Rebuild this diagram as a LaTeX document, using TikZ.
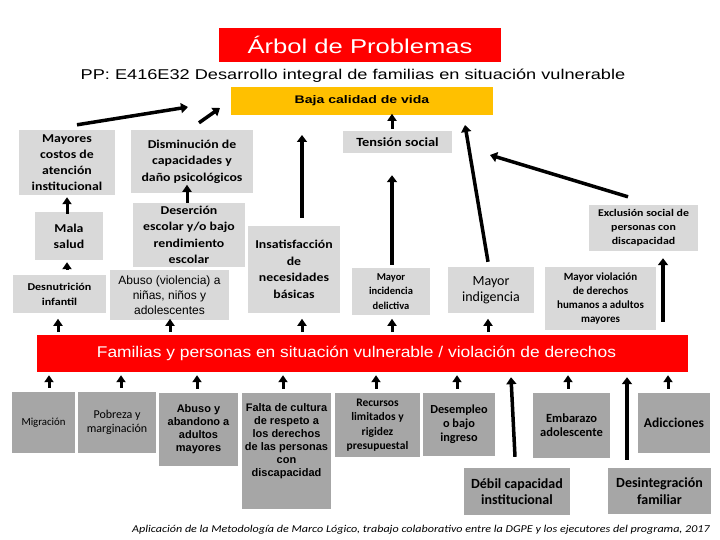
\documentclass[tikz,border=0pt]{standalone}
\usepackage{fontspec}
\setmainfont{Carlito}
\newfontfamily\arl{Liberation Sans}
\newfontfamily\arlw[FakeStretch=1.28]{Liberation Sans}
\newfontfamily\arlm[FakeStretch=1.12]{Liberation Sans}
\newfontfamily\cw[FakeStretch=1.15]{Carlito}
\usetikzlibrary{arrows.meta,calc}
\definecolor{lg}{HTML}{D9D9D9}
\definecolor{dg}{HTML}{A6A6A6}
\definecolor{rd}{HTML}{FF0000}
\definecolor{yl}{HTML}{FFC000}
\begin{document}
\begin{tikzpicture}[x=1pt,y=-1pt,
  lbox/.style={fill=lg, inner sep=0pt, align=center},
  dbox/.style={fill=dg, inner sep=0pt, align=center},
  arr/.style={line width=3pt, -{Triangle[width=9pt,length=7pt]}},
  sarr/.style={line width=3.5pt, -{Triangle[width=10pt,length=7pt]}}]
\useasboundingbox (0,0) rectangle (720,540);

% header
\node[fill=rd, text=white, minimum width=282pt, minimum height=34pt, inner sep=0pt] (title) at (360,45)
  {\arlw\fontsize{20}{24}\selectfont Árbol de Problemas};
\node[inner sep=0pt] (sub) at (353,76)
  {\arlw\fontsize{14.2}{16}\selectfont PP: E416E32 Desarrollo integral de familias en situación vulnerable};
\node[fill=yl, minimum width=262pt, minimum height=28pt, inner sep=0pt] (yellow) at (362,101)
  {\arlw\bfseries\fontsize{11}{14}\selectfont Baja calidad de vida};

% effects (light gray)
\node[lbox, minimum width=96pt, minimum height=65pt, font=\cw\bfseries\fontsize{12}{16}\selectfont] (mayores) at (67,162.5)
  {Mayores\\costos de\\atención\\institucional};
\node[lbox, minimum width=68pt, minimum height=48pt, font=\cw\bfseries\fontsize{12}{16}\selectfont] (mala) at (69,236)
  {Mala\\salud};
\node[lbox, minimum width=93pt, minimum height=38pt, font=\cw\bfseries\fontsize{10.5}{15}\selectfont] (desnut) at (59.5,294)
  {Desnutrición\\infantil};
\node[lbox, minimum width=122pt, minimum height=63pt, font=\cw\bfseries\fontsize{12}{16.5}\selectfont] (dismin) at (192,161.5)
  {Disminución de\\capacidades y\\daño psicológicos};
\node[lbox, minimum width=112pt, minimum height=64pt, font=\cw\bfseries\fontsize{12}{16.5}\selectfont] (desercion) at (189,235)
  {Deserción\\escolar y/o bajo\\rendimiento\\escolar};
\node[lbox, minimum width=119pt, minimum height=50pt, font=\arl\fontsize{12}{15}\selectfont] (abusov) at (169.5,295)
  {Abuso (violencia) a\\niñas, niños y\\adolescentes};
\node[lbox, minimum width=92pt, minimum height=87pt, font=\cw\bfseries\fontsize{12}{16.5}\selectfont] (insat) at (294,269.5)
  {Insatisfacción\\de\\necesidades\\básicas};
\node[lbox, minimum width=109pt, minimum height=22pt, font=\cw\bfseries\fontsize{12.5}{14}\selectfont] (tension) at (397.5,142)
  {Tensión social};
\node[lbox, minimum width=78pt, minimum height=47pt, font=\bfseries\fontsize{10.5}{14.5}\selectfont] (incid) at (391,291.5)
  {Mayor\\incidencia\\delictiva};
\node[lbox, minimum width=86pt, minimum height=46pt, font=\fontsize{14}{16}\selectfont] (indig) at (491,290)
  {Mayor\\indigencia};
\node[lbox, minimum width=109pt, minimum height=46pt, font=\cw\bfseries\fontsize{10.3}{14}\selectfont] (exclus) at (643.5,228)
  {Exclusión social de\\personas con\\discapacidad};
\node[lbox, minimum width=111pt, minimum height=63pt, font=\bfseries\fontsize{11}{14.3}\selectfont] (violac) at (600.5,298.5)
  {Mayor violación\\de derechos\\humanos a adultos\\mayores};

% central problem
\node[fill=rd, text=white, minimum width=651pt, minimum height=37pt, inner sep=0pt] (problem) at (362.5,353.5)
  {\arlm\fontsize{15.5}{18}\selectfont\hspace*{-12pt}Familias y personas en situación vulnerable / violación de derechos};

% causes (dark gray)
\node[dbox, minimum width=63pt, minimum height=61pt, font=\fontsize{10.8}{14}\selectfont] (migr) at (43.5,422.5)
  {Migración};
\node[dbox, minimum width=78pt, minimum height=61pt, font=\fontsize{12}{13.5}\selectfont] (pobreza) at (117,422.5)
  {Pobreza y\\marginación};
\node[dbox, minimum width=79pt, minimum height=73pt, font=\arl\bfseries\fontsize{11}{13}\selectfont] (abusoy) at (198.5,429.5)
  {Abuso y\\abandono a\\adultos\\mayores};
\node[dbox, minimum width=89pt, minimum height=116pt] (falta) at (286.5,451) {};
\node[inner sep=0pt, align=center, font=\arl\bfseries\fontsize{11}{13}\selectfont] (faltaT) at (286.5,441.5)
  {Falta de cultura\\de respeto a\\los derechos\\de las personas\\con\\discapacidad};
\node[dbox, minimum width=85pt, minimum height=64pt, font=\bfseries\fontsize{11.5}{14.5}\selectfont] (recursos) at (377.5,425)
  {Recursos\\limitados y\\rigidez\\presupuestal};
\node[dbox, minimum width=72pt, minimum height=63pt, font=\bfseries\fontsize{12.3}{14}\selectfont] (desemp) at (459,424.5)
  {Desempleo\\o bajo\\ingreso};
\node[dbox, minimum width=77pt, minimum height=65pt, font=\bfseries\fontsize{12.5}{14}\selectfont] (embarazo) at (571.5,425.5)
  {Embarazo\\adolescente};
\node[dbox, minimum width=72pt, minimum height=60pt, font=\bfseries\fontsize{13.5}{15}\selectfont] (adicc) at (674,423)
  {Adicciones};
\node[dbox, minimum width=106pt, minimum height=47pt, font=\bfseries\fontsize{14}{16}\selectfont] (debil) at (517,491.5)
  {Débil capacidad\\institucional};
\node[dbox, minimum width=103pt, minimum height=46pt, font=\bfseries\fontsize{14}{17}\selectfont] (desint) at (659.5,491)
  {Desintegración\\familiar};

% footer
\node[inner sep=0pt, font=\cw\itshape\fontsize{10.5}{12}\selectfont] (foot) at (421,530)
  {Aplicación de la Metodología de Marco Lógico, trabajo colaborativo entre la DGPE y los ejecutores del programa, 2017};

% free ends of top arrows
\coordinate (e1) at (188,107);
\coordinate (e2) at (220,108);
\coordinate (e3) at (302,135);
\coordinate (e4) at (465,125);
\coordinate (e5) at (490,155);

% arrows towards "Baja calidad de vida"
\draw[sarr] ($(mayores.north)+(10,-5)$) -- (e1);
\draw[sarr] ($(dismin.north)+(7,-7)$) -- (e2);
\draw[sarr] ($(insat.north)+(8,-8)$) -- (e3);
\draw[sarr] ($(indig.north)+(-3,-5)$) -- (e4);
\draw[sarr] ($(exclus.north)+(-15.5,-8)$) -- (e5);
\draw[arr] ($(tension.north)+(-5.5,-2)$) -- ($(tension.north)+(-5.5,-17)$);
\draw[sarr] ($(incid.north)+(1,-3)$) -- ($(tension.south)+(-5.5,22)$);
\draw[sarr] ($(violac.north)+(62.5,55)$) -- ($(exclus.south)+(19.5,7)$);
\draw[arr] ($(desercion.north)+(-2,0)$) -- ($(desercion.north)+(-2,-18)$);
\draw[arr] ($(mala.north)+(-2,2)$) -- ($(mayores.south)+(0,2)$);
\draw[arr] ($(desnut.north)+(7.5,-6)$) -- ($(mala.south)+(-2,2)$);

% arrows from central problem up to effects
\draw[arr] ($(problem.north)+(-304.5,-3)$) -- ($(problem.north)+(-304.5,-16)$);
\draw[arr] ($(problem.north)+(-192.5,-3)$) -- ($(problem.north)+(-192.5,-16)$);
\draw[arr] ($(problem.north)+(-60.5,-3)$) -- ($(problem.north)+(-60.5,-16)$);
\draw[arr] ($(problem.north)+(29.5,-3)$) -- ($(problem.north)+(29.5,-16)$);
\draw[arr] ($(problem.north)+(125.5,-3)$) -- ($(problem.north)+(125.5,-16)$);

% arrows from causes up to central problem
\draw[arr] ($(migr.north)+(5.5,-4)$) -- ($(migr.north |- problem.south)+(5.5,3)$);
\draw[arr] ($(pobreza.north)+(4,-4)$) -- ($(pobreza.north |- problem.south)+(4,3)$);
\draw[arr] ($(abusoy.north)+(-1.5,-4)$) -- ($(abusoy.north |- problem.south)+(-1.5,3)$);
\draw[arr] ($(falta.north)+(-3.5,-4)$) -- ($(falta.north |- problem.south)+(-3.5,3)$);
\draw[arr] ($(recursos.north)+(-1.5,-4)$) -- ($(recursos.north |- problem.south)+(-1.5,3)$);
\draw[arr] ($(desemp.north)+(-2,-4)$) -- ($(desemp.north |- problem.south)+(-2,3)$);
\draw[arr] ($(embarazo.north)+(-3.5,-4)$) -- ($(embarazo.north |- problem.south)+(-3.5,3)$);
\draw[arr] ($(adicc.north)+(-6,-4)$) -- ($(adicc.north |- problem.south)+(-6,3)$);
\draw[sarr] ($(debil.north)+(-2,-11)$) -- ($(debil.north |- problem.south)+(-6,5)$);
\draw[sarr] ($(desint.north)+(-32.5,-8)$) -- ($(desint.north |- problem.south)+(-32.5,5)$);
\end{tikzpicture}
\end{document}
